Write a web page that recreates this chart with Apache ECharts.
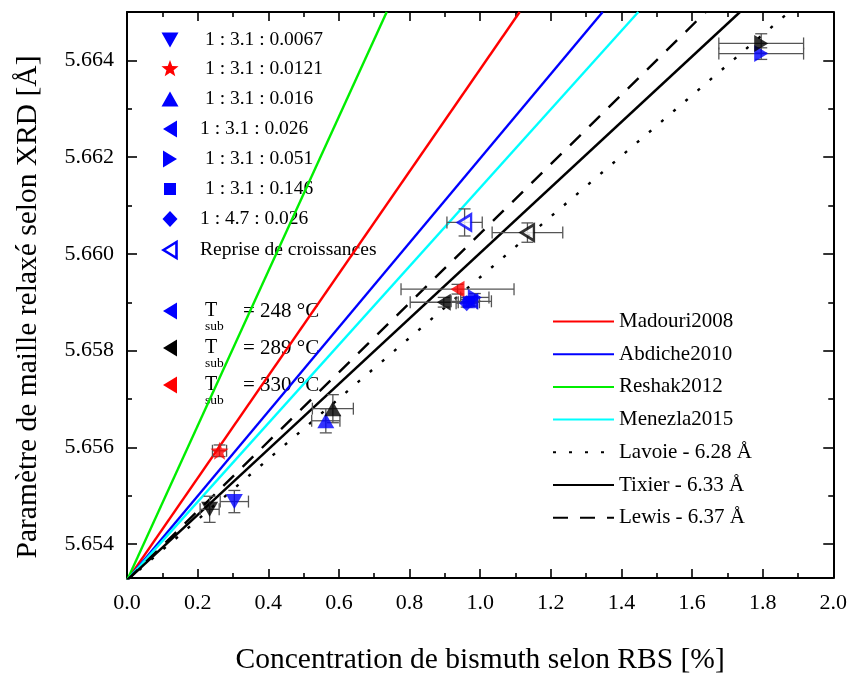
<!DOCTYPE html>
<html>
<head>
<meta charset="utf-8">
<script src="https://cdn.jsdelivr.net/npm/echarts@6/dist/echarts.min.js"></script>
<style>
  html, body { margin: 0; padding: 0; background: #ffffff; }
  #chart { width: 850px; height: 680px; }
</style>
</head>
<body>
<div id="chart"></div>
<script>
// ---- axis ranges and ticks ----
const xMin = 0, xMax = 2.0, xStep = 0.2;
const yMin = 5.6533, yMax = 5.665;
const yMajorTicks = [5.654, 5.656, 5.658, 5.660, 5.662, 5.664];
const yMinorTicks = [5.655, 5.657, 5.659, 5.661, 5.663];

// ---- Vegard lines: start at the GaAs substrate value, end where they leave the frame ----
const vegardNames = ['Madouri2008', 'Abdiche2010', 'Reshak2012', 'Menezla2015',
                     'Lavoie - 6.28 Å', 'Tixier - 6.33 Å', 'Lewis - 6.37 Å'];
const vegardStart = [0, 5.65325];
const vegardEndX = [1.112, 1.347, 0.7355, 1.448, 1.875, 1.736, 1.639];
const vegardEndY = [5.665, 5.665, 5.665, 5.665, 5.665, 5.665, 5.665];

// ---- measured samples: x = Bi (RBS, %), y = relaxed lattice (XRD, Å), dx / dy = error, t = T_sub (°C) ----
const ratio0067 = [
  { x: 0.304, y: 5.65488, dx: 0.040, dy: 0.00023, t: 248 },
  { x: 0.234, y: 5.65472, dx: 0.027, dy: 0.00027, t: 289 }
];
const ratio0121 = [
  { x: 0.262, y: 5.65593, dx: 0.020, dy: 0.00012, t: 330 }
];
const ratio016 = [
  { x: 0.563, y: 5.65655, dx: 0.040, dy: 0.00025, t: 248 },
  { x: 0.583, y: 5.65680, dx: 0.058, dy: 0.00029, t: 289 }
];
const ratio026 = [
  { x: 0.936, y: 5.65927, dx: 0.160, dy: 0.00010, t: 330 },
  { x: 0.897, y: 5.65900, dx: 0.095, dy: 0.00010, t: 289 },
  { x: 0.975, y: 5.65902, dx: 0.057, dy: 0.00010, t: 248 }
];
const ratio051 = [
  { x: 1.796, y: 5.66414, dx: 0.120, dy: 0.00012, t: 248 },
  { x: 1.796, y: 5.66435, dx: 0.120, dy: 0.00020, t: 289 },
  { x: 0.985, y: 5.65910, dx: 0.040, dy: 0.00008, t: 248 }
];
const ratio146 = [
  { x: 0.968, y: 5.65900, dx: 0.030, dy: 0.00008, t: 248 }
];
const ratio47 = [
  { x: 0.962, y: 5.65898, dx: 0.030, dy: 0.00008, t: 248 }
];
const regrowth = [
  { x: 0.956, y: 5.66065, dx: 0.050, dy: 0.00028, t: 248 },
  { x: 1.134, y: 5.66044, dx: 0.100, dy: 0.00020, t: 289 }
];

// ---- legend labels ----
const shapeLabels = ['1 : 3.1 : 0.0067', '1 : 3.1 : 0.0121', '1 : 3.1 : 0.016', '1 : 3.1 : 0.026',
                     '1 : 3.1 : 0.051', '1 : 3.1 : 0.146', '1 : 4.7 : 0.026', 'Reprise de croissances'];
const tsubValues = [248, 289, 330];

// ---- styling ----
const FONT = '"Liberation Serif", "DejaVu Serif", serif';
const tsubColor = { 248: '#0000ff', 289: '#000000', 330: '#ff0000' };
const vegardColors = ['#ff0000', '#0000ff', '#00ee00', '#00ffff', '#000000', '#000000', '#000000'];
const vegardDash = ['solid', 'solid', 'solid', 'solid', [3, 13], 'solid', [15, 12]];

// marker outlines on a 10 x 10 box
function starPoints() {
  const pts = [];
  for (let i = 0; i < 10; i++) {
    const r = i % 2 === 0 ? 5 : 2.1;
    const a = -Math.PI / 2 + i * Math.PI / 5;
    pts.push([5 + r * Math.cos(a), 5 + r * Math.sin(a)]);
  }
  return pts;
}
const outlines = {
  down: [[0, 0], [10, 0], [5, 10]],
  up: [[5, 0], [10, 10], [0, 10]],
  left: [[0, 5], [10, 0], [10, 10]],
  right: [[10, 5], [0, 0], [0, 10]],
  square: [[0, 0], [10, 0], [10, 10], [0, 10]],
  diamond: [[5, 0], [10, 5], [5, 10], [0, 5]],
  star: starPoints()
};
function toPath(pts) {
  return 'path://' + pts.map((p, i) => (i ? 'L' : 'M') + p[0].toFixed(3) + ',' + p[1].toFixed(3)).join('') + 'Z';
}
function placed(pts, cx, cy, w, h) {
  return pts.map(p => [cx - w / 2 + p[0] * w / 10, cy - h / 2 + p[1] * h / 10]);
}

const groups = [
  { name: shapeLabels[0], pts: ratio0067, shape: 'down',    size: [17, 15], hollow: false, legendColor: '#0000ff' },
  { name: shapeLabels[1], pts: ratio0121, shape: 'star',    size: [18, 18], hollow: false, legendColor: '#ff0000' },
  { name: shapeLabels[2], pts: ratio016,  shape: 'up',      size: [17, 15], hollow: false, legendColor: '#0000ff' },
  { name: shapeLabels[3], pts: ratio026,  shape: 'left',    size: [14, 17], hollow: false, legendColor: '#0000ff' },
  { name: shapeLabels[4], pts: ratio051,  shape: 'right',   size: [14, 17], hollow: false, legendColor: '#0000ff' },
  { name: shapeLabels[5], pts: ratio146,  shape: 'square',  size: [12, 12], hollow: false, legendColor: '#0000ff' },
  { name: shapeLabels[6], pts: ratio47,   shape: 'diamond', size: [15, 16], hollow: false, legendColor: '#0000ff' },
  { name: shapeLabels[7], pts: regrowth,  shape: 'left',    size: [13, 16], hollow: true,  legendColor: '#0000ff' }
];

// ---- series ----
const series = [];

vegardNames.forEach((name, i) => {
  series.push({
    name: name,
    type: 'line',
    data: [vegardStart, [vegardEndX[i], vegardEndY[i]]],
    showSymbol: false,
    symbol: 'none',
    clip: true,
    silent: true,
    z: 1,
    lineStyle: { color: vegardColors[i], width: 2.4, type: vegardDash[i] },
    itemStyle: { color: vegardColors[i], opacity: 0 }
  });
});

const allPoints = [];
groups.forEach(g => g.pts.forEach(p => allPoints.push([p.x, p.y, p.dx, p.dy])));

series.push({
  name: 'errors',
  type: 'custom',
  data: allPoints,
  encode: { x: 0, y: 1 },
  silent: true,
  z: 2,
  renderItem: function (params, api) {
    const x = api.value(0), y = api.value(1), dx = api.value(2), dy = api.value(3);
    const l = api.coord([x - dx, y]);
    const r = api.coord([x + dx, y]);
    const t = api.coord([x, y + dy]);
    const b = api.coord([x, y - dy]);
    const cap = 6;
    const style = { stroke: '#555555', lineWidth: 1.3, fill: null };
    const seg = (x1, y1, x2, y2) => ({ type: 'line', shape: { x1: x1, y1: y1, x2: x2, y2: y2 }, style: style });
    return {
      type: 'group',
      children: [
        seg(l[0], l[1], r[0], r[1]),
        seg(l[0], l[1] - cap, l[0], l[1] + cap),
        seg(r[0], r[1] - cap, r[0], r[1] + cap),
        seg(t[0], t[1], b[0], b[1]),
        seg(t[0] - cap, t[1], t[0] + cap, t[1]),
        seg(b[0] - cap, b[1], b[0] + cap, b[1])
      ]
    };
  }
});

groups.forEach(g => {
  series.push({
    name: g.name,
    type: 'scatter',
    symbol: toPath(outlines[g.shape]),
    symbolSize: g.size,
    symbolKeepAspect: false,
    z: 3,
    silent: true,
    data: g.pts.map(p => ({
      value: [p.x, p.y],
      itemStyle: g.hollow
        ? { color: '#ffffff', borderColor: tsubColor[p.t], borderWidth: 2.6 }
        : { color: tsubColor[p.t] }
    }))
  });
});

// ---- hand-placed legend for the markers (upper left) ----
const graphics = [];
const rowY = [40, 69, 99, 129, 159, 189, 219, 250];
const textX = [205, 205, 205, 200, 205, 205, 200, 200];
groups.forEach((g, i) => {
  graphics.push({
    type: 'polygon',
    shape: { points: placed(outlines[g.shape], 170, rowY[i], g.size[0], g.size[1]) },
    style: g.hollow
      ? { fill: '#ffffff', stroke: g.legendColor, lineWidth: 2.6 }
      : { fill: g.legendColor }
  });
  graphics.push({
    type: 'text',
    x: textX[i], y: rowY[i],
    style: { text: g.name, font: '19.5px ' + FONT, fill: '#000', verticalAlign: 'middle' }
  });
});
const tsubRowY = [311, 348, 385];
tsubValues.forEach((t, i) => {
  graphics.push({
    type: 'polygon',
    shape: { points: placed(outlines.left, 170, tsubRowY[i], 14, 17) },
    style: { fill: tsubColor[t] }
  });
  graphics.push({
    type: 'text', x: 205, y: tsubRowY[i],
    style: { text: 'T', font: '20px ' + FONT, fill: '#000', verticalAlign: 'middle' }
  });
  graphics.push({
    type: 'text', x: 205, y: tsubRowY[i] + 15,
    style: { text: 'sub', font: '13.5px ' + FONT, fill: '#000', verticalAlign: 'middle' }
  });
  graphics.push({
    type: 'text', x: 243, y: tsubRowY[i],
    style: { text: '= ' + t + ' °C', font: '21px ' + FONT, fill: '#000', verticalAlign: 'middle' }
  });
});

const axisLine = { show: true, lineStyle: { color: '#000', width: 2 } };
const hiddenLabel = { show: false };

const option = {
  backgroundColor: '#ffffff',
  animation: false,
  grid: { left: 127, right: 15, top: 12, bottom: 102, containLabel: false },
  legend: {
    data: vegardNames,
    orient: 'vertical',
    left: 547,
    top: 306,
    itemWidth: 61,
    itemHeight: 14,
    itemGap: 11.7,
    selectedMode: false,
    itemStyle: { opacity: 0 },
    textStyle: { fontFamily: FONT, fontSize: 21, color: '#000' }
  },
  xAxis: [
    {
      type: 'value', position: 'bottom', min: xMin, max: xMax, interval: xStep,
      axisLine: axisLine,
      axisTick: { show: true, inside: true, length: 9, lineStyle: { color: '#000', width: 1.6 } },
      minorTick: { show: true, splitNumber: 2, length: 5, lineStyle: { color: '#000', width: 1.6 } },
      splitLine: { show: false },
      axisLabel: { margin: 14, fontFamily: FONT, fontSize: 22, color: '#000', formatter: v => v.toFixed(1) },
      name: 'Concentration de bismuth selon RBS [%]',
      nameLocation: 'middle', nameGap: 67,
      nameTextStyle: { fontFamily: FONT, fontSize: 29.5, color: '#000' }
    },
    {
      type: 'value', position: 'top', min: xMin, max: xMax, interval: xStep,
      axisLine: axisLine,
      axisTick: { show: true, inside: true, length: 9, lineStyle: { color: '#000', width: 1.6 } },
      minorTick: { show: true, splitNumber: 2, length: 5, lineStyle: { color: '#000', width: 1.6 } },
      splitLine: { show: false },
      axisLabel: hiddenLabel
    }
  ],
  yAxis: [
    {
      type: 'value', position: 'left', min: yMin, max: yMax,
      axisLine: axisLine,
      axisTick: { show: true, inside: true, length: 10, customValues: yMajorTicks, lineStyle: { color: '#000', width: 1.6 } },
      splitLine: { show: false },
      axisLabel: { margin: 13, fontFamily: FONT, fontSize: 22, color: '#000', customValues: yMajorTicks, formatter: v => v.toFixed(3) },
      name: 'Paramètre de maille relaxé selon XRD [Å]',
      nameLocation: 'middle', nameGap: 84, nameRotate: 90,
      nameTextStyle: { fontFamily: FONT, fontSize: 29.5, color: '#000', padding: [0, 24, 0, 0] }
    },
    {
      type: 'value', position: 'left', min: yMin, max: yMax,
      axisLine: { show: false },
      axisTick: { show: true, inside: true, length: 5, customValues: yMinorTicks, lineStyle: { color: '#000', width: 1.6 } },
      splitLine: { show: false },
      axisLabel: hiddenLabel
    },
    {
      type: 'value', position: 'right', min: yMin, max: yMax,
      axisLine: axisLine,
      axisTick: { show: true, inside: true, length: 10, customValues: yMajorTicks, lineStyle: { color: '#000', width: 1.6 } },
      splitLine: { show: false },
      axisLabel: hiddenLabel
    },
    {
      type: 'value', position: 'right', min: yMin, max: yMax,
      axisLine: { show: false },
      axisTick: { show: true, inside: true, length: 5, customValues: yMinorTicks, lineStyle: { color: '#000', width: 1.6 } },
      splitLine: { show: false },
      axisLabel: hiddenLabel
    }
  ],
  graphic: graphics,
  series: series
};

const chart = echarts.init(document.getElementById('chart'), null, { renderer: 'canvas' });
chart.setOption(option);
</script>
</body>
</html>
